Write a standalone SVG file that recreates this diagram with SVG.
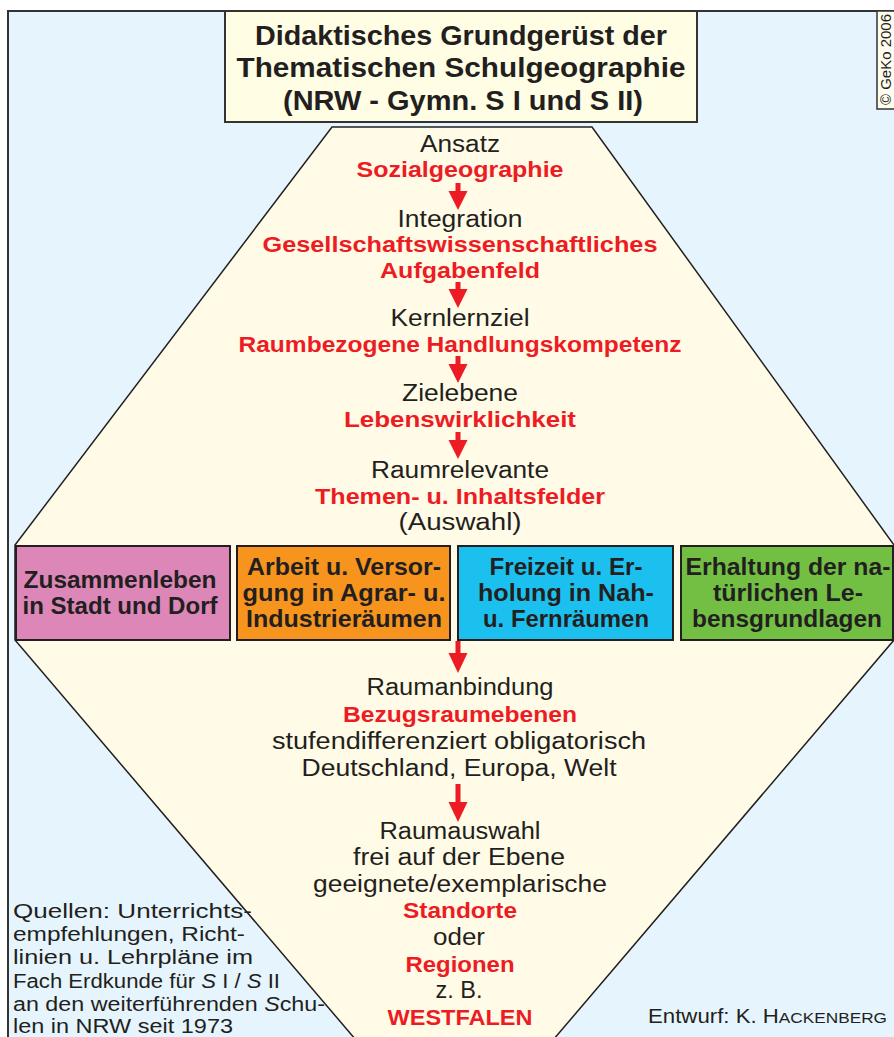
<svg xmlns="http://www.w3.org/2000/svg" width="894" height="1037" viewBox="0 0 894 1037">
<defs>
<style>
.reg{font-family:"Liberation Sans",Arial,sans-serif;font-size:23px;fill:#231f20;text-anchor:middle}
.red{font-family:"Liberation Sans",Arial,sans-serif;font-size:22px;font-weight:bold;fill:#ed1c24;text-anchor:middle}
.ttl{font-family:"Liberation Sans",Arial,sans-serif;font-size:28.5px;font-weight:bold;fill:#231f20;text-anchor:middle}
.bx{font-family:"Liberation Sans",Arial,sans-serif;font-size:24px;font-weight:bold;fill:#231f20;text-anchor:middle}
.box{stroke:#231f20;stroke-width:2}
.note{font-family:"Liberation Sans",Arial,sans-serif;font-size:20px;fill:#231f20}
.arr{fill:#ed1c24}
</style>
</defs>
<rect x="0" y="0" width="894" height="1037" fill="#ffffff"/>
<rect id="frame" x="8" y="11" width="900" height="1040" fill="#e6f5fd" stroke="#333333" stroke-width="2"/>
<polygon id="hexagon" points="332,127 592,127 894,545 894,640 536,1060 373,1060 15,640 15,545" fill="#fffbe6" stroke="#231f20" stroke-width="1.5"/>
<g id="title">
<rect x="225" y="11" width="472" height="111" fill="#fffde4" stroke="#333333" stroke-width="2"/>
<text class="ttl" x="461" y="45" textLength="412" lengthAdjust="spacingAndGlyphs">Didaktisches Grundgerüst der</text>
<text class="ttl" x="461" y="77" textLength="449" lengthAdjust="spacingAndGlyphs">Thematischen Schulgeographie</text>
<text class="ttl" x="463" y="110" textLength="360" lengthAdjust="spacingAndGlyphs">(NRW - Gymn. S I und S II)</text>
</g>
<g id="copyright">
<rect x="877" y="11" width="30" height="98" fill="#fffdf0" stroke="#333333" stroke-width="1.5"/>
<text x="0" y="0" transform="translate(891,105) rotate(-90)" font-family="Liberation Sans, Arial, sans-serif" font-size="15" fill="#231f20" textLength="91" lengthAdjust="spacingAndGlyphs">© GeKo 2006</text>
</g>
<g id="ansatz">
<text class="reg" x="460" y="152" textLength="80" lengthAdjust="spacingAndGlyphs">Ansatz</text>
<text class="red" x="460" y="177" textLength="207" lengthAdjust="spacingAndGlyphs">Sozialgeographie</text>
</g>
<g id="integration">
<text class="reg" x="460" y="227" textLength="125" lengthAdjust="spacingAndGlyphs">Integration</text>
<text class="red" x="460" y="252" textLength="395" lengthAdjust="spacingAndGlyphs">Gesellschaftswissenschaftliches</text>
<text class="red" x="460" y="278" textLength="160" lengthAdjust="spacingAndGlyphs">Aufgabenfeld</text>
</g>
<g id="kernlernziel">
<text class="reg" x="460" y="326" textLength="139" lengthAdjust="spacingAndGlyphs">Kernlernziel</text>
<text class="red" x="460" y="352" textLength="443" lengthAdjust="spacingAndGlyphs">Raumbezogene Handlungskompetenz</text>
</g>
<g id="zielebene">
<text class="reg" x="460" y="401" textLength="116" lengthAdjust="spacingAndGlyphs">Zielebene</text>
<text class="red" x="460" y="427" textLength="232" lengthAdjust="spacingAndGlyphs">Lebenswirklichkeit</text>
</g>
<g id="raumrelevante">
<text class="reg" x="460" y="478" textLength="178" lengthAdjust="spacingAndGlyphs">Raumrelevante</text>
<text class="red" x="460" y="504" textLength="290" lengthAdjust="spacingAndGlyphs">Themen- u. Inhaltsfelder</text>
<text class="reg" x="460" y="530" textLength="123" lengthAdjust="spacingAndGlyphs">(Auswahl)</text>
</g>
<g id="box-zusammenleben">
<rect class="box" x="16" y="546" width="214" height="94" fill="#dc87b8"/>
<text class="bx" x="120" y="588" textLength="193" lengthAdjust="spacingAndGlyphs">Zusammenleben</text>
<text class="bx" x="120" y="614" textLength="195" lengthAdjust="spacingAndGlyphs">in Stadt und Dorf</text>
</g>
<g id="box-arbeit">
<rect class="box" x="237" y="546" width="213" height="94" fill="#f7941d"/>
<text class="bx" x="344" y="575" textLength="194" lengthAdjust="spacingAndGlyphs">Arbeit u. Versor-</text>
<text class="bx" x="344" y="601" textLength="203" lengthAdjust="spacingAndGlyphs">gung in Agrar- u.</text>
<text class="bx" x="344" y="627" textLength="196" lengthAdjust="spacingAndGlyphs">Industrieräumen</text>
</g>
<g id="box-freizeit">
<rect class="box" x="458" y="546" width="215" height="94" fill="#1cc0ef"/>
<text class="bx" x="566" y="575" textLength="153" lengthAdjust="spacingAndGlyphs">Freizeit u. Er-</text>
<text class="bx" x="566" y="601" textLength="176" lengthAdjust="spacingAndGlyphs">holung in Nah-</text>
<text class="bx" x="566" y="627" textLength="166" lengthAdjust="spacingAndGlyphs">u. Fernräumen</text>
</g>
<g id="box-erhaltung">
<rect class="box" x="681" y="546" width="212" height="94" fill="#72bf44"/>
<text class="bx" x="788" y="575" textLength="205" lengthAdjust="spacingAndGlyphs">Erhaltung der na-</text>
<text class="bx" x="788" y="601" textLength="150" lengthAdjust="spacingAndGlyphs">türlichen Le-</text>
<text class="bx" x="787" y="627" textLength="190" lengthAdjust="spacingAndGlyphs">bensgrundlagen</text>
</g>
<g id="raumanbindung">
<text class="reg" x="460" y="695" textLength="187" lengthAdjust="spacingAndGlyphs">Raumanbindung</text>
<text class="red" x="460" y="722" textLength="234" lengthAdjust="spacingAndGlyphs">Bezugsraumebenen</text>
<text class="reg" x="459" y="749" textLength="374" lengthAdjust="spacingAndGlyphs">stufendifferenziert obligatorisch</text>
<text class="reg" x="459" y="776" textLength="315" lengthAdjust="spacingAndGlyphs">Deutschland, Europa, Welt</text>
</g>
<g id="raumauswahl">
<text class="reg" x="460" y="839" textLength="161" lengthAdjust="spacingAndGlyphs">Raumauswahl</text>
<text class="reg" x="459" y="865" textLength="212" lengthAdjust="spacingAndGlyphs">frei auf der Ebene</text>
<text class="reg" x="460" y="892" textLength="294" lengthAdjust="spacingAndGlyphs">geeignete/exemplarische</text>
<text class="red" x="460" y="918" textLength="114" lengthAdjust="spacingAndGlyphs">Standorte</text>
<text class="reg" x="459" y="945" textLength="52" lengthAdjust="spacingAndGlyphs">oder</text>
<text class="red" x="460" y="972" textLength="109" lengthAdjust="spacingAndGlyphs">Regionen</text>
<text class="reg" x="459" y="998" textLength="47" lengthAdjust="spacingAndGlyphs">z. B.</text>
<text class="red" x="460" y="1025" textLength="145" lengthAdjust="spacingAndGlyphs">WESTFALEN</text>
</g>
<g id="connectors">
<path class="arr" d="M455.5,183 H460.5 V191 H467.5 L458,210 L448.5,191 H455.5 Z"/>
<path class="arr" d="M455.5,282 H460.5 V289 H467.5 L458,308 L448.5,289 H455.5 Z"/>
<path class="arr" d="M455.5,356 H460.5 V364 H467.5 L458,383 L448.5,364 H455.5 Z"/>
<path class="arr" d="M455.5,432 H460.5 V440 H467.5 L458,459 L448.5,440 H455.5 Z"/>
<path class="arr" d="M455.5,641 H460.5 V653 H467.5 L458,673 L448.5,653 H455.5 Z"/>
<path class="arr" d="M455.5,784 H460.5 V802 H467.5 L458,822 L448.5,802 H455.5 Z"/>
</g>
<g id="quellen">
<text class="note" x="13" y="918" textLength="239" lengthAdjust="spacingAndGlyphs">Quellen: Unterrichts-</text>
<text class="note" x="13" y="941" textLength="232" lengthAdjust="spacingAndGlyphs">empfehlungen, Richt-</text>
<text class="note" x="13" y="964" textLength="240" lengthAdjust="spacingAndGlyphs">linien u. Lehrpläne im</text>
<text class="note" x="13" y="988" textLength="267" lengthAdjust="spacingAndGlyphs">Fach Erdkunde für <tspan font-style="italic">S</tspan> I / <tspan font-style="italic">S</tspan> II</text>
<text class="note" x="13" y="1011" textLength="312" lengthAdjust="spacingAndGlyphs">an den weiterführenden <tspan font-style="italic">S</tspan>chu-</text>
<text class="note" x="13" y="1033" textLength="220" lengthAdjust="spacingAndGlyphs">len in NRW seit 1973</text>
</g>
<g id="entwurf">
<text class="note" x="648" y="1023" textLength="239" lengthAdjust="spacingAndGlyphs">Entwurf: K. H<tspan font-size="15.5">ACKENBERG</tspan></text>
</g>
</svg>
